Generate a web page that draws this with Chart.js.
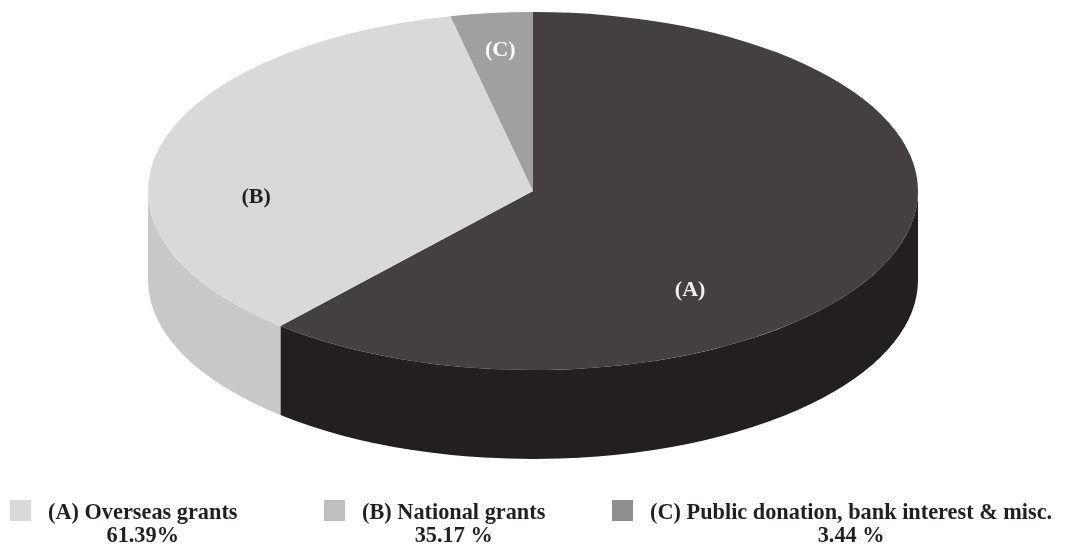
<!DOCTYPE html>
<html>
<head>
<meta charset="utf-8">
<script src="https://cdn.jsdelivr.net/npm/chart.js@4/dist/chart.umd.min.js"></script>
<style>
  body { margin: 0; background: #fff; }
  #wrap { position: relative; width: 1066px; height: 549px; }
  #legend { position: absolute; left: 0; top: 500px; width: 1066px; font-family: "Liberation Serif", serif; font-weight: bold; font-size: 22.3px; color: #231f20; }
  .item { position: absolute; top: 0; display: flex; }
  .box { width: 21px; height: 21px; margin-top: 0; margin-right: 17px; }
  .txt { text-align: center; line-height: 23px; }
</style>
</head>
<body>
<div id="wrap">
  <canvas id="chart"></canvas>
  <div id="legend"></div>
</div>
<script>
const labels = ["(A)", "(B)", "(C)"];
const names = ["(A) Overseas grants", "(B) National grants", "(C) Public donation, bank interest & misc."];
const shares = [61.39, 35.17, 3.44];
const shareText = ["61.39%", "35.17 %", "3.44 %"];

const topColors = ["#444041", "#d9d9d9", "#a09fa1"];
const sideColors = ["#231f20", "#c8c8c8", "#8e8d8f"];
const legendColors = ["#d9d9d9", "#bfbfbf", "#8e8d8f"];
const labelColors = ["#f2f2f2", "#231f20", "#ffffff"];
const legendLeft = [10, 324, 612];

const squash = 0.465;   // vertical flattening of the pie top
const depth = 89;       // wall height in px

function clampFront(a0, a1) {
  // keep the part of [a0,a1] that faces the viewer (0..PI), angles mod 2PI
  const out = [];
  for (let k = -1; k <= 1; k++) {
    const s = Math.max(a0 + k * 2 * Math.PI, 0);
    const e = Math.min(a1 + k * 2 * Math.PI, Math.PI);
    if (e > s) out.push([s, e]);
  }
  return out;
}

const pie3d = {
  id: "pie3d",
  beforeDatasetsDraw(chart) {
    const ctx = chart.ctx;
    const arcs = chart.getDatasetMeta(0).data;
    ctx.save();
    arcs.forEach((arc, i) => {
      const r = arc.outerRadius, cx = arc.x, cy = arc.y;
      clampFront(arc.startAngle, arc.endAngle).forEach(([s, e]) => {
        ctx.beginPath();
        ctx.ellipse(cx, cy, r, r * squash, 0, s, e);
        ctx.lineTo(cx + r * Math.cos(e), cy + depth + r * squash * Math.sin(e));
        ctx.ellipse(cx, cy + depth, r, r * squash, 0, e, s, true);
        ctx.closePath();
        ctx.fillStyle = sideColors[i];
        ctx.fill();
      });
    });
    ctx.restore();
    const a = arcs[0];
    ctx.save();
    ctx.translate(a.x, a.y);
    ctx.scale(1, squash);
    ctx.translate(-a.x, -a.y);
  },
  afterDatasetsDraw(chart) {
    const ctx = chart.ctx;
    ctx.restore();
    const arcs = chart.getDatasetMeta(0).data;
    const nudge = [0.58, -0.30, 0];
    const frac = [0.69, 0.72, 0.79];
    ctx.save();
    ctx.font = "bold 22px 'Liberation Serif'";
    ctx.textAlign = "center";
    ctx.textBaseline = "middle";
    arcs.forEach((arc, i) => {
      const mid = (arc.startAngle + arc.endAngle) / 2 + nudge[i];
      const r = arc.outerRadius * frac[i];
      ctx.fillStyle = labelColors[i];
      ctx.fillText(labels[i], arc.x + r * Math.cos(mid), arc.y + r * squash * Math.sin(mid));
    });
    ctx.restore();
  }
};

new Chart(document.getElementById("chart"), {
  type: "pie",
  data: {
    labels: names,
    datasets: [{
      data: shares,
      backgroundColor: topColors,
      borderWidth: 0
    }]
  },
  options: {
    responsive: true,
    maintainAspectRatio: false,
    animation: false,
    radius: 385,
    layout: { padding: { bottom: 167 } },
    plugins: { legend: { display: false }, tooltip: { enabled: false } }
  },
  plugins: [pie3d]
});

// legend below the pie
const legendEl = document.getElementById("legend");
names.forEach((n, i) => {
  const item = document.createElement("div");
  item.className = "item";
  item.style.left = legendLeft[i] + "px";
  item.innerHTML = `<div class="box" style="background:${legendColors[i]}"></div>` +
    `<div class="txt">${n.replace("&", "&amp;")}<br>${shareText[i]}</div>`;
  legendEl.appendChild(item);
});
</script>
</body>
</html>
